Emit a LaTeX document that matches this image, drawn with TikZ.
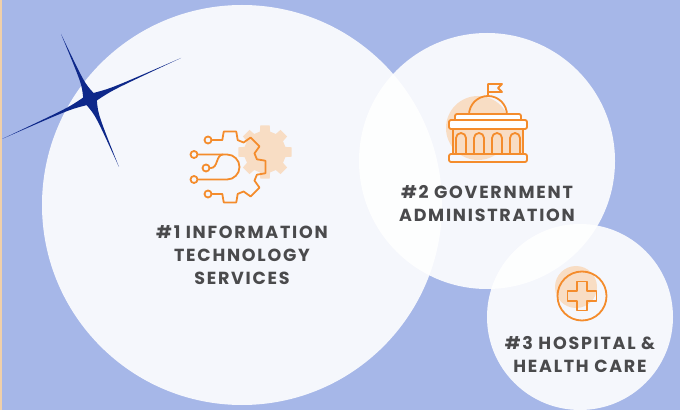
\documentclass[tikz,border=0pt]{standalone}
\usepackage{fontspec}
\setmainfont{Poppins}[LetterSpace=10]
\usetikzlibrary{calc}
\definecolor{sky}{RGB}{166,183,232}
\definecolor{navy}{RGB}{14,40,138}
\definecolor{tangerine}{RGB}{244,140,44}
\definecolor{blush}{RGB}{248,221,196}
\definecolor{sand}{RGB}{240,208,170}
\definecolor{ink}{RGB}{74,74,76}

\begin{document}
\begin{tikzpicture}[
  x=1pt,y=1pt,
  bubble/.style={circle,fill=white,fill opacity=0.89,inner sep=0pt},
  caption/.style={font=\fontsize{17.5}{23}\selectfont\bfseries,text=ink,align=center,inner sep=0pt},
  icon/.style={draw=tangerine,line width=1.8pt,line join=round,line cap=round},
  ring/.style={circle,draw=tangerine,line width=1.8pt,minimum size=7pt,inner sep=0pt},
  spark/.style={fill=navy},
  patch/.style={fill=blush},
]
\useasboundingbox (0,0) rectangle (680,410);
\fill[sky] (0,0) rectangle (680,410);
\fill[sand] (0,0) rectangle (1.5,410);

\node[bubble,minimum size=400pt] (itb) at (242,205) {};
\node[bubble,minimum size=256pt] (govb) at (487,249) {};
\node[bubble,minimum size=186pt] (hospb) at (580,93) {};

\coordinate (s0) at (90,311);
\coordinate (s1) at (61,376);
\coordinate (s2) at (181,352);
\coordinate (s3) at (119,243);
\coordinate (s4) at (2,271);
\foreach \i/\j in {1/2,2/3,3/4,4/1} {
  \coordinate (h\i) at ($(s\i)!0.5!(s\j)$);
  \coordinate (m\i) at ($(s0)!7pt!(h\i)$);
  \coordinate (c\i) at ($(s0)!0.3!(s\i)$);
}
\fill[spark] (s1) .. controls ($(c1)!0.25!(m1)$) .. (m1) .. controls ($(c2)!0.25!(m1)$) .. (s2)
  .. controls ($(c2)!0.25!(m2)$) .. (m2) .. controls ($(c3)!0.25!(m2)$) .. (s3)
  .. controls ($(c3)!0.25!(m3)$) .. (m3) .. controls ($(c4)!0.25!(m3)$) .. (s4)
  .. controls ($(c4)!0.25!(m4)$) .. (m4) .. controls ($(c1)!0.25!(m4)$) .. (s1) -- cycle;

\coordinate (k) at (265,258);
\fill[patch] ($(k)+(14:21)$) \foreach \a in {45,90,...,360} {
  -- ($(k)+(\a-14:21)$) -- ($(k)+(\a-10:27)$) -- ($(k)+(\a+10:27)$) -- ($(k)+(\a+14:21)$) } -- cycle;

\coordinate (g) at (230,243);
\node[ring] (w1) at (208,270) {};
\node[ring] (w2) at (194,255.5) {};
\node[ring] (w3) at (206,242) {};
\node[ring] (w4) at (194,230.5) {};
\node[ring] (w5) at (208,216) {};
\draw[icon] (w1.east) -- ($(g)+(106:28)$) \foreach \a in {90,45,0,-45,-90} {
  -- ($(g)+(\a+16:28)$) -- ($(g)+(\a+10:36)$) -- ($(g)+(\a-10:36)$) -- ($(g)+(\a-16:28)$) } -- (w5.east);
\draw[icon] (w2.east) -- (227,255.5) arc[start angle=90,end angle=-90,radius=12.5] -- (w4.east);
\draw[icon] (w3.east) -- (211,242) to[out=0,in=180] (223,255.5);

\fill[patch] (478,282) circle[radius=32];
\fill[patch] (453,256) rectangle (523,281);
\draw[icon] (488,314) -- (488,326) -- (502,326) -- (498,322) -- (502,318) -- (488,318);
\draw[icon] (469,295) arc[start angle=180,end angle=0,radius=19];
\draw[icon,fill=white,rounded corners=2pt] (455,289) rectangle (521,296);
\draw[icon,fill=white,rounded corners=2pt] (449,281) rectangle (527,290);
\draw[icon] (453,281) -- (453,256) (523,281) -- (523,256);
\foreach \c in {461,479,497,515}
  \draw[icon] (\c-5,256) -- (\c-5,272) arc[start angle=180,end angle=0,radius=5] -- (\c+5,256);
\draw[icon,rounded corners=2pt] (449,248) rectangle (527,256);

\fill[patch] (576,123) circle[radius=21];
\draw[icon] (582,114) circle[radius=24.5];
\draw[icon,line width=1.5pt] (577,128.5) -- ++(10,0) -- ++(0,-9.5) -- ++(9.5,0) -- ++(0,-10) -- ++(-9.5,0)
  -- ++(0,-9.5) -- ++(-10,0) -- ++(0,9.5) -- ++(-9.5,0) -- ++(0,10) -- ++(9.5,0) -- cycle;

\node[caption] (itt) at (242,155) {\#1 INFORMATION\\TECHNOLOGY\\SERVICES};
\node[caption] (govt) at (487,206.5) {\#2 GOVERNMENT\\ADMINISTRATION};
\node[caption] (hospt) at (580,55) {\#3 HOSPITAL \&\\HEALTH CARE};
\end{tikzpicture}
\end{document}
